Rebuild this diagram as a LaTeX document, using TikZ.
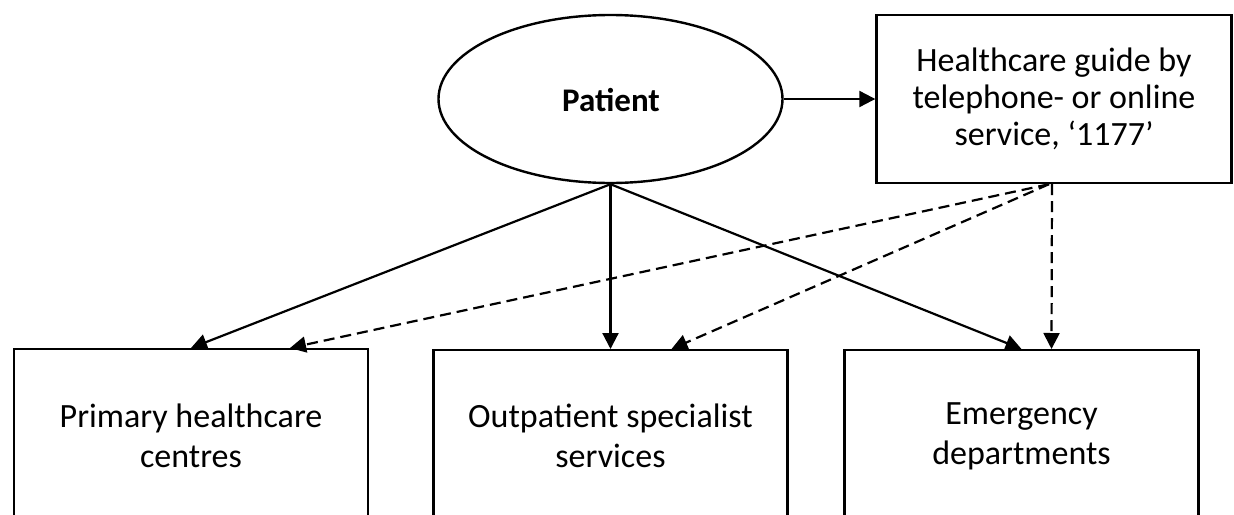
\documentclass[tikz,border=0pt]{standalone}
\usepackage{fontspec}
\setmainfont{Carlito}
\usetikzlibrary{arrows.meta,shapes.geometric}
\begin{document}
\begin{tikzpicture}[x=1pt,y=-1pt,
  every node/.style={font=\fontsize{34}{40}\selectfont},
  box/.style={draw,line width=2.4pt,rectangle,inner sep=0pt},
  lowbox/.style={box,minimum width=354pt,minimum height=220pt,anchor=north},
  txt/.style={align=center,inner sep=0pt},
  arr/.style={line width=2.2pt,-{Triangle[length=16pt,width=16pt]}},
  darr/.style={arr,dash pattern=on 11pt off 6pt}]
\clip (0,0) rectangle (1234,514);
\node[draw,line width=2.4pt,ellipse,minimum width=344pt,minimum height=168pt,inner sep=0pt] (p) at (610.5,99) {};
\node[txt,font=\fontsize{33}{40}\selectfont\bfseries] (pt) at (611,100) {Patient};
\node[box,minimum width=355pt,minimum height=168pt,align=center,font=\fontsize{34}{37}\selectfont] (h) at (1054,99) {Healthcare guide by\\telephone- or online\\service, ‘1177’};
\node[lowbox] (b1) at (191,348) {};
\node[lowbox] (b2) at (610.5,349) {};
\node[lowbox] (b3) at (1021.5,349) {};
\node[txt] (t1) at (191,436) {Primary healthcare\\centres};
\node[txt] (t2) at (610.5,436) {Outpatient specialist\\services};
\node[txt] (t3) at (1021.5,436) {Emergency\\departments};
\draw[arr] (p.east) -- (h.west);
\draw[arr] (p.south) -- (b1.north);
\draw[arr] (p.south) -- (b2.north);
\draw[arr] (p.south) -- (b3.north);
\draw[darr] ([xshift=-5pt]h.south) -- ([xshift=99pt]b1.north);
\draw[darr] ([xshift=-5pt]h.south) -- ([xshift=61pt]b2.north);
\draw[darr] ([xshift=-2pt]h.south) -- ([xshift=30pt]b3.north);
\end{tikzpicture}
\end{document}
